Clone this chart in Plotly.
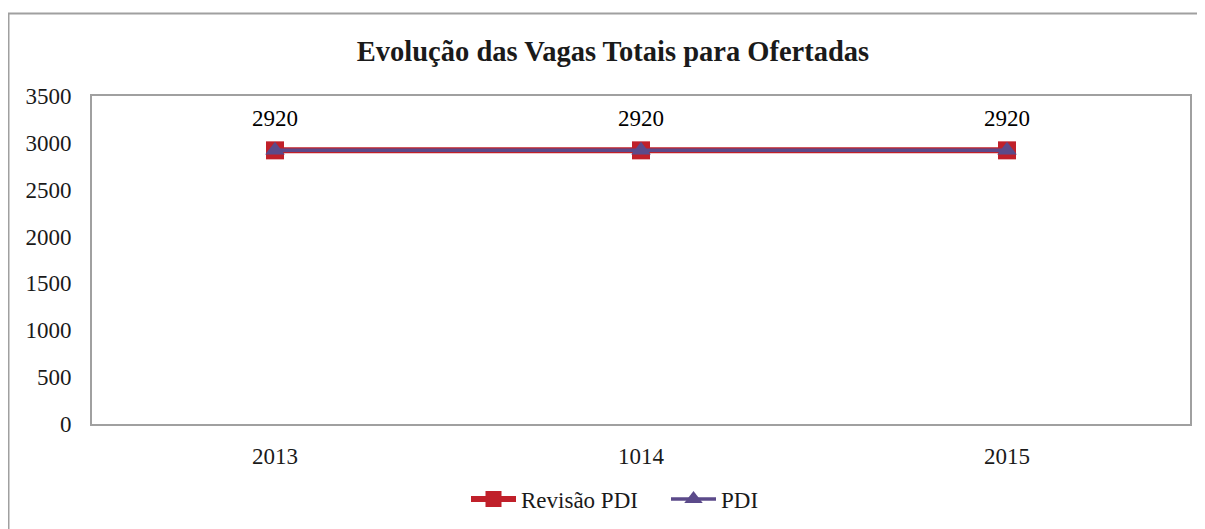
import plotly.graph_objects as go

categories = ["2013", "1014", "2015"]
revisao_pdi = [2920, 2920, 2920]
pdi = [2920, 2920, 2920]
y_ticks = [0, 500, 1000, 1500, 2000, 2500, 3000, 3500]

# page body has an 8px margin, so the figure is drawn 8px smaller/shifted
W, H = 1197, 521
L, R, T, B = 84, 1182, 88, 416

fig = go.Figure()
fig.add_trace(go.Scatter(
    x=categories, y=revisao_pdi, name="Revisão PDI", mode="lines+markers",
    line=dict(color="#C0202A", width=6),
    marker=dict(symbol="square", size=18, color="#C0202A"),
))
fig.add_trace(go.Scatter(
    x=categories, y=pdi, name="PDI", mode="lines+markers",
    line=dict(color="#5B4A8A", width=3.5),
    marker=dict(symbol="triangle-up", size=17, color="#5B4A8A"),
))

# data labels (category axes take the category index for annotations)
for i, v in enumerate(pdi):
    fig.add_annotation(x=i, y=v, text=str(v), showarrow=False,
                       yanchor="middle", yshift=32,
                       font=dict(size=23, color="#000000", family="Liberation Serif"))

def px_to_paper_x(px):
    return (px - L) / (R - L)

def px_to_paper_y(py):
    return (B - py) / (B - T)

fig.add_shape(type="rect", xref="paper", yref="paper",
              x0=px_to_paper_x(0.5), x1=px_to_paper_x(1210),
              y0=px_to_paper_y(540), y1=px_to_paper_y(5.5),
              line=dict(color="#A0A0A0", width=2), layer="below")

fig.update_layout(
    width=W, height=H,
    margin=dict(l=L, r=W - R, t=T, b=H - B, autoexpand=False),
    paper_bgcolor="white", plot_bgcolor="white",
    font=dict(family="Liberation Serif", size=23, color="#1a1a1a"),
    title=dict(text="<b>Evolução das Vagas Totais para Ofertadas</b>",
               x=px_to_paper_x(605), xref="paper", xanchor="center",
               y=1 - 43 / H, yanchor="middle",
               font=dict(size=28.5, color="#1a1a1a", family="Liberation Serif")),
    showlegend=True,
    legend=dict(orientation="h", x=px_to_paper_x(658), xanchor="center",
                y=px_to_paper_y(491), yanchor="middle",
                font=dict(size=23, family="Liberation Serif"), itemwidth=45,
                entrywidth=140, traceorder="normal"),
    xaxis=dict(type="category", range=[-0.5, 2.5], showgrid=False,
               showline=True, linecolor="#A0A0A0", linewidth=2, mirror=True,
               ticks="", tickfont=dict(size=23), ticklen=0),
    yaxis=dict(range=[0, 3500], tickvals=y_ticks, showgrid=False,
               showline=True, linecolor="#A0A0A0", linewidth=2, mirror=True,
               ticks="", tickfont=dict(size=23), zeroline=False),
)
fig.update_xaxes(ticklabelstandoff=10)
fig.update_yaxes(ticklabelstandoff=14)

fig.write_html("out.html")
